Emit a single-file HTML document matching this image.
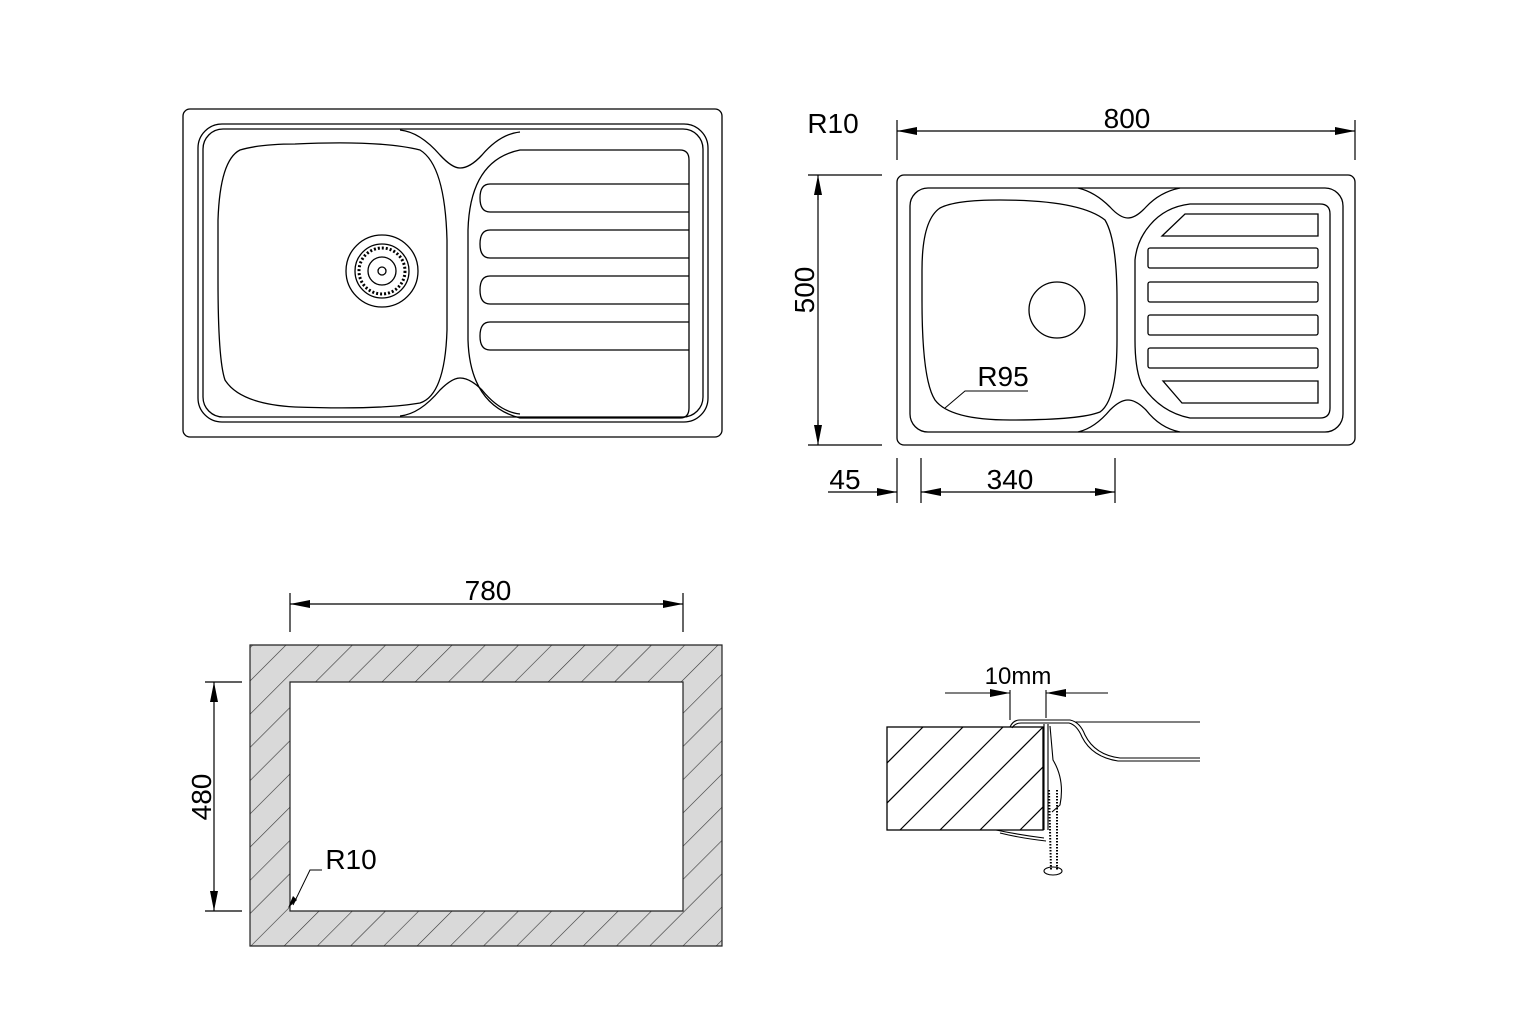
<!DOCTYPE html>
<html><head><meta charset="utf-8"><style>
html,body{margin:0;padding:0;background:#fff;}
svg{display:block;}
text{font-family:"Liberation Sans",sans-serif;fill:#000;}
</style></head><body>
<svg width="1536" height="1024" viewBox="0 0 1536 1024" xmlns="http://www.w3.org/2000/svg">
<defs>
<marker id="a" viewBox="0 0 20 8" refX="20" refY="4" markerWidth="20" markerHeight="8" markerUnits="userSpaceOnUse" orient="auto"><path d="M0,0 L20,4 L0,8 z" fill="#000"/></marker>
<pattern id="h" width="23.5" height="23.5" patternUnits="userSpaceOnUse" patternTransform="rotate(45)"><rect width="23.5" height="23.5" fill="#d9d9d9"/><line x1="0" y1="0" x2="0" y2="23.5" stroke="#333" stroke-width="1.2"/></pattern>
<clipPath id="cb"><rect x="887" y="727" width="156" height="103"/></clipPath>
</defs>
<g fill="none" stroke="#000" stroke-width="1.3">
<rect x="183" y="109" width="539" height="328" rx="7"/>
<rect x="198" y="124" width="510" height="298" rx="24"/>
<rect x="203" y="129" width="500" height="288" rx="20"/>
<path d="M400,130 Q420,132 440,155 Q452,168 460,168 Q470,168 482,155 Q500,134 520,132"/>
<path d="M400,416 Q420,414 440,390 Q452,378 460,378 Q470,378 482,390 Q500,412 520,414"/>
<path d="M295,144 Q380,140 420,150 Q445,165 447,240 L447,330 Q445,395 420,403 Q380,410 295,407 Q240,404 225,380 Q218,360 218,280 L218,220 Q220,160 240,150 Q260,144 295,144 Z"/>
<path d="M520,150 L680,150 Q689,150 689,160 L689,408 Q689,418 680,418 L520,418 Q470,405 468,340 L468,230 Q470,160 520,150 Z"/>
<path d="M689,184 L490,184 Q480,184 480,198 Q480,212 490,212 L689,212"/>
<path d="M689,230 L490,230 Q480,230 480,244 Q480,258 490,258 L689,258"/>
<path d="M689,276 L490,276 Q480,276 480,290 Q480,304 490,304 L689,304"/>
<path d="M689,322 L490,322 Q480,322 480,336 Q480,350 490,350 L689,350"/>
<circle cx="382" cy="271" r="36"/>
<circle cx="382" cy="271" r="27"/>
<circle cx="382" cy="271" r="23" stroke-dasharray="2 2" stroke-width="3"/>
<circle cx="382" cy="271" r="14"/>
<circle cx="382" cy="271" r="4"/>
<rect x="897" y="175" width="458" height="270" rx="7"/>
<rect x="910" y="188" width="433" height="244" rx="18"/>
<path d="M1078,188 Q1095,192 1110,207 Q1120,218 1128,218 Q1136,218 1146,207 Q1160,192 1180,188"/>
<path d="M1078,432 Q1095,428 1110,410 Q1120,400 1128,400 Q1136,400 1146,410 Q1160,428 1180,432"/>
<path d="M1000,200 Q1080,200 1105,220 Q1117,240 1117,300 L1117,340 Q1117,400 1100,412 Q1080,420 1010,420 Q950,420 935,400 Q922,380 922,300 L922,270 Q922,220 940,208 Q955,200 1000,200 Z"/>
<path d="M1190,204 L1320,204 Q1330,204 1330,214 L1330,408 Q1330,418 1320,418 L1190,418 Q1160,412 1142,385 Q1135,370 1135,340 L1135,260 Q1137,240 1150,225 Q1165,207 1190,204 Z"/>
<path d="M1185,214 L1318,214 L1318,236 L1162,236 Z"/>
<rect x="1148" y="248" width="170" height="20" rx="2"/>
<rect x="1148" y="282" width="170" height="20" rx="2"/>
<rect x="1148" y="315" width="170" height="20" rx="2"/>
<rect x="1148" y="348" width="170" height="20" rx="2"/>
<path d="M1163,381 L1318,381 L1318,403 L1182,403 Z"/>
<circle cx="1057" cy="310" r="28"/>
<path d="M945,408 L965,391 L1028,391" stroke-width="1"/>
</g>
<g stroke="#000" stroke-width="1.2" fill="none">
<line x1="897" y1="120" x2="897" y2="160"/><line x1="1355" y1="120" x2="1355" y2="160"/>
<line x1="920" y1="131" x2="897" y2="131" marker-end="url(#a)"/><line x1="920" y1="131" x2="1335" y2="131"/><line x1="1330" y1="131" x2="1355" y2="131" marker-end="url(#a)"/>
<line x1="808" y1="175" x2="882" y2="175"/><line x1="808" y1="445" x2="882" y2="445"/>
<line x1="818" y1="200" x2="818" y2="175" marker-end="url(#a)"/><line x1="818" y1="195" x2="818" y2="425"/><line x1="818" y1="420" x2="818" y2="445" marker-end="url(#a)"/>
<line x1="897" y1="458" x2="897" y2="503"/><line x1="921" y1="458" x2="921" y2="503"/><line x1="1115" y1="458" x2="1115" y2="503"/>
<line x1="828" y1="492" x2="897" y2="492" marker-end="url(#a)"/>
<line x1="941" y1="492" x2="921" y2="492" marker-end="url(#a)"/><line x1="940" y1="492" x2="1095" y2="492"/><line x1="1090" y1="492" x2="1115" y2="492" marker-end="url(#a)"/>
<line x1="290" y1="593" x2="290" y2="632"/><line x1="683" y1="593" x2="683" y2="632"/>
<line x1="310" y1="604" x2="290" y2="604" marker-end="url(#a)"/><line x1="310" y1="604" x2="665" y2="604"/><line x1="660" y1="604" x2="683" y2="604" marker-end="url(#a)"/>
<line x1="205" y1="682" x2="242" y2="682"/><line x1="205" y1="911" x2="242" y2="911"/>
<line x1="214" y1="702" x2="214" y2="682" marker-end="url(#a)"/><line x1="214" y1="700" x2="214" y2="892"/><line x1="214" y1="890" x2="214" y2="911" marker-end="url(#a)"/>
</g>
<path d="M250,645 H722 V946 H250 Z M290,682 V911 H683 V682 Z" fill="url(#h)" fill-rule="evenodd" stroke="#222" stroke-width="1.2"/>
<path d="M322,870 L310,870 L293,905" fill="none" stroke="#000" stroke-width="1"/>
<path d="M288,908 L293,896 L297,900 z" fill="#000"/>
<g clip-path="url(#cb)"><rect x="887" y="727" width="156" height="103" fill="#fff"/>
<g stroke="#000" stroke-width="1.2">
<line x1="860" y1="830" x2="963" y2="727"/><line x1="900" y1="830" x2="1003" y2="727"/><line x1="940" y1="830" x2="1043" y2="727"/><line x1="980" y1="830" x2="1083" y2="727"/><line x1="1020" y1="830" x2="1123" y2="727"/><line x1="820" y1="830" x2="923" y2="727"/>
</g></g>
<rect x="887" y="727" width="156" height="103" fill="none" stroke="#000" stroke-width="1.3"/>
<g fill="none" stroke="#000" stroke-width="1.1">
<path d="M1010,727 Q1013,720 1020,720 L1070,720 Q1080,722 1085,735 Q1095,755 1120,758 L1200,758"/>
<path d="M1012,728 Q1015,723 1021,723 L1069,723 Q1077,725 1082,737 Q1092,757 1118,761 L1200,761"/>
<line x1="1075" y1="722" x2="1200" y2="722"/>
<path d="M1044,724 L1044,830 M1048,724 L1048,830"/>
<path d="M1050,726 L1053,760 Q1065,780 1060,805 L1052,812"/>
<path d="M996,830 Q1020,835 1044,838 M1000,833 Q1020,838 1046,841"/>
<path d="M1049,790 L1051,870 M1057,790 L1057,870" stroke-dasharray="1.5 1.5" stroke-width="2"/>
<ellipse cx="1053" cy="871" rx="9" ry="4"/>
<line x1="1010" y1="690" x2="1010" y2="720"/><line x1="1046" y1="690" x2="1046" y2="718"/>
<line x1="945" y1="693" x2="1010" y2="693" marker-end="url(#a)"/>
<line x1="1108" y1="693" x2="1046" y2="693" marker-end="url(#a)"/>
</g>
<text x="833" y="133" font-size="28" text-anchor="middle">R10</text>
<text x="1127" y="128" font-size="28" text-anchor="middle">800</text>
<text x="0" y="0" font-size="28" text-anchor="middle" transform="translate(814,290) rotate(-90)">500</text>
<text x="1003" y="386" font-size="28" text-anchor="middle">R95</text>
<text x="845" y="489" font-size="28" text-anchor="middle">45</text>
<text x="1010" y="489" font-size="28" text-anchor="middle">340</text>
<text x="488" y="600" font-size="28" text-anchor="middle">780</text>
<text x="0" y="0" font-size="28" text-anchor="middle" transform="translate(211,797) rotate(-90)">480</text>
<text x="351" y="869" font-size="28" text-anchor="middle">R10</text>
<text x="1018" y="684" font-size="24" text-anchor="middle">10mm</text>
</svg>
</body></html>
